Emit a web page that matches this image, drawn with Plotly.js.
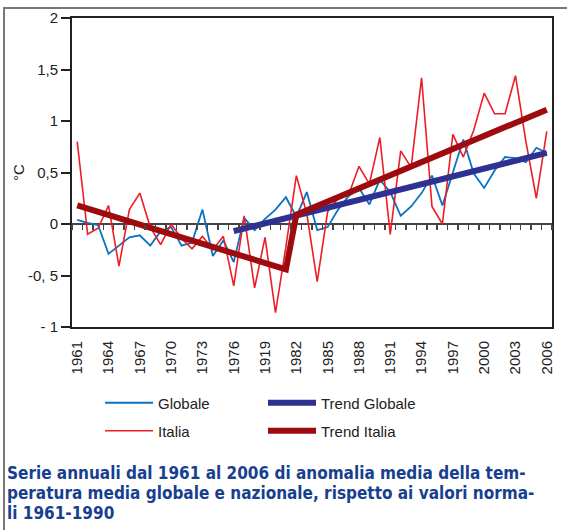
<!DOCTYPE html>
<html>
<head>
<meta charset="utf-8">
<script src="https://cdn.plot.ly/plotly-3.0.1.min.js"></script>
<style>
  html, body { margin: 0; padding: 0; background: #fff; }
  #wrap { position: relative; width: 567px; height: 530px; overflow: hidden; }
  #chart { width: 567px; height: 530px; }
  #frame { position: absolute; left: 3px; top: 7px; width: 600px; height: 600px;
           border-left: 2px solid #777; border-top: 2px solid #777; pointer-events: none; }
</style>
</head>
<body>
<div id="wrap"><div id="chart"></div><div id="frame"></div></div>
<script>
// ---- data ----
const years = [1961,1962,1963,1964,1965,1966,1967,1968,1969,1970,
               1971,1972,1973,1974,1975,1976,1977,1978,1979,1980,
               1981,1982,1983,1984,1985,1986,1987,1988,1989,1990,
               1991,1992,1993,1994,1995,1996,1997,1998,1999,2000,
               2001,2002,2003,2004,2005,2006];
const globale = [0.04,0.01,-0.01,-0.29,-0.21,-0.13,-0.11,-0.21,-0.07,-0.03,
                 -0.21,-0.18,0.14,-0.31,-0.16,-0.37,0.06,-0.06,0.05,0.14,
                 0.26,0.07,0.31,-0.06,-0.03,0.14,0.27,0.35,0.19,0.43,
                 0.31,0.08,0.17,0.30,0.47,0.18,0.50,0.82,0.49,0.35,
                 0.52,0.65,0.64,0.60,0.74,0.69];
const italia = [0.80,-0.10,-0.04,0.18,-0.41,0.14,0.30,-0.03,-0.20,0.00,
                -0.14,-0.24,-0.12,-0.25,-0.12,-0.60,0.08,-0.62,-0.13,-0.86,
                -0.22,0.47,0.10,-0.56,0.12,0.25,0.28,0.56,0.39,0.84,
                -0.10,0.71,0.55,1.42,0.17,0.00,0.87,0.65,0.91,1.27,
                1.07,1.07,1.44,0.80,0.25,0.90];
const trendGlobaleX = [1976, 2006];
const trendGlobaleY = [-0.07, 0.69];
const trendItaliaX = [1961, 1981, 1982, 2006];
const trendItaliaY = [0.18, -0.44, 0.09, 1.11];

const xTickVals = [1961,1964,1967,1970,1973,1976,1979,1982,1985,1988,1991,1994,1997,2000,2003,2006];
const xTickText = ["1961","1964","1967","1970","1973","1976","1919","1982","1985","1988","1991","1994","1997","2000","2003","2006"];
const yTickVals = [2, 1.5, 1, 0.5, 0, -0.5, -1];
const yTickText = ["2", "1,5", "1", "0,5", "0", "-0, 5", "- 1"];
const caption = ["Serie annuali dal 1961 al 2006 di anomalia media della tem-",
                 "peratura media globale e nazionale, rispetto ai valori norma-",
                 "li 1961-1990"];

// ---- layout helpers ----
const W = 567, H = 530, ML = 72, MR = 15, MT = 18, MB = 203;
const PW = W - ML - MR, PH = H - MT - MB;
const px2x = p => (p - ML) / PW;
const py2y = p => (H - MB - p) / PH;

const FONT = 'Liberation Sans, Arial, sans-serif';

const traces = [
  {x: years, y: globale, type: 'scatter', mode: 'lines', name: 'Globale',
   line: {color: '#0a72c4', width: 1.8}, legend: 'legend', legendrank: 1},
  {x: years, y: italia, type: 'scatter', mode: 'lines', name: 'Italia',
   line: {color: '#ee1c25', width: 1.6}, legend: 'legend2', legendrank: 3},
  {x: trendGlobaleX, y: trendGlobaleY, type: 'scatter', mode: 'lines', name: 'Trend Globale',
   line: {color: '#2e3192', width: 6}, legend: 'legend', legendrank: 2},
  {x: trendItaliaX, y: trendItaliaY, type: 'scatter', mode: 'lines', name: 'Trend Italia',
   line: {color: '#9e0b0f', width: 6}, legend: 'legend2', legendrank: 4},
  {x: [], y: [], xaxis: 'x2', yaxis: 'y', type: 'scatter', mode: 'lines',
   showlegend: false, hoverinfo: 'skip'}
];

const legendCommon = {
  orientation: 'h', xanchor: 'left', yanchor: 'middle',
  font: {family: FONT, size: 15, color: '#222'},
  bgcolor: 'rgba(0,0,0,0)', borderwidth: 0,
  entrywidthmode: 'pixels', entrywidth: 100, itemwidth: 48,
  traceorder: 'normal'
};

const layout = {
  width: W, height: H,
  margin: {l: ML, r: MR, t: MT, b: MB, pad: 0},
  paper_bgcolor: '#fff', plot_bgcolor: '#fff',
  showlegend: true,
  xaxis: {
    type: 'linear', range: [1960.5, 2006.5],
    tickmode: 'array', tickvals: xTickVals, ticktext: xTickText,
    tickangle: -90, ticks: '', ticklabelstandoff: 6,
    tickfont: {family: FONT, size: 15, color: '#222'},
    showline: true, linecolor: '#222', linewidth: 2, mirror: true,
    showgrid: false, zeroline: false, fixedrange: true
  },
  xaxis2: {
    type: 'linear', range: [1960.5, 2006.5], overlaying: 'x', matches: 'x',
    anchor: 'free', position: py2y(H - MB - PH / 3), side: 'bottom',
    tickmode: 'linear', tick0: 1960.5, dtick: 1,
    ticks: 'outside', ticklen: 5, tickwidth: 1.5, tickcolor: '#444',
    showticklabels: false, showline: false, showgrid: false, zeroline: false
  },
  yaxis: {
    range: [-1, 2], tickmode: 'array', tickvals: yTickVals, ticktext: yTickText,
    ticks: 'outside', ticklen: 9, tickwidth: 2, tickcolor: '#222',
    tickfont: {family: FONT, size: 15, color: '#222'},
    showline: true, linecolor: '#222', linewidth: 2, mirror: true,
    showgrid: false, zeroline: true, zerolinecolor: '#444', zerolinewidth: 2,
    title: {text: '°C', font: {family: FONT, size: 15, color: '#222'}, standoff: 0},
    fixedrange: true
  },
  legend: Object.assign({}, legendCommon, {x: px2x(100), y: py2y(403)}),
  legend2: Object.assign({}, legendCommon, {x: px2x(100), y: py2y(431)}),
  annotations: caption.map((t, i) => ({
    text: '<b>' + t + '</b>', xref: 'paper', yref: 'paper',
    x: px2x(5), y: py2y(473 + i * 20), xanchor: 'left', yanchor: 'middle',
    showarrow: false, align: 'left',
    font: {family: 'DejaVu Sans Condensed, Liberation Sans Narrow, sans-serif', size: 17, color: '#173f8f'}
  }))
};

Plotly.newPlot('chart', traces, layout, {staticPlot: true, displayModeBar: false});
</script>
</body>
</html>
